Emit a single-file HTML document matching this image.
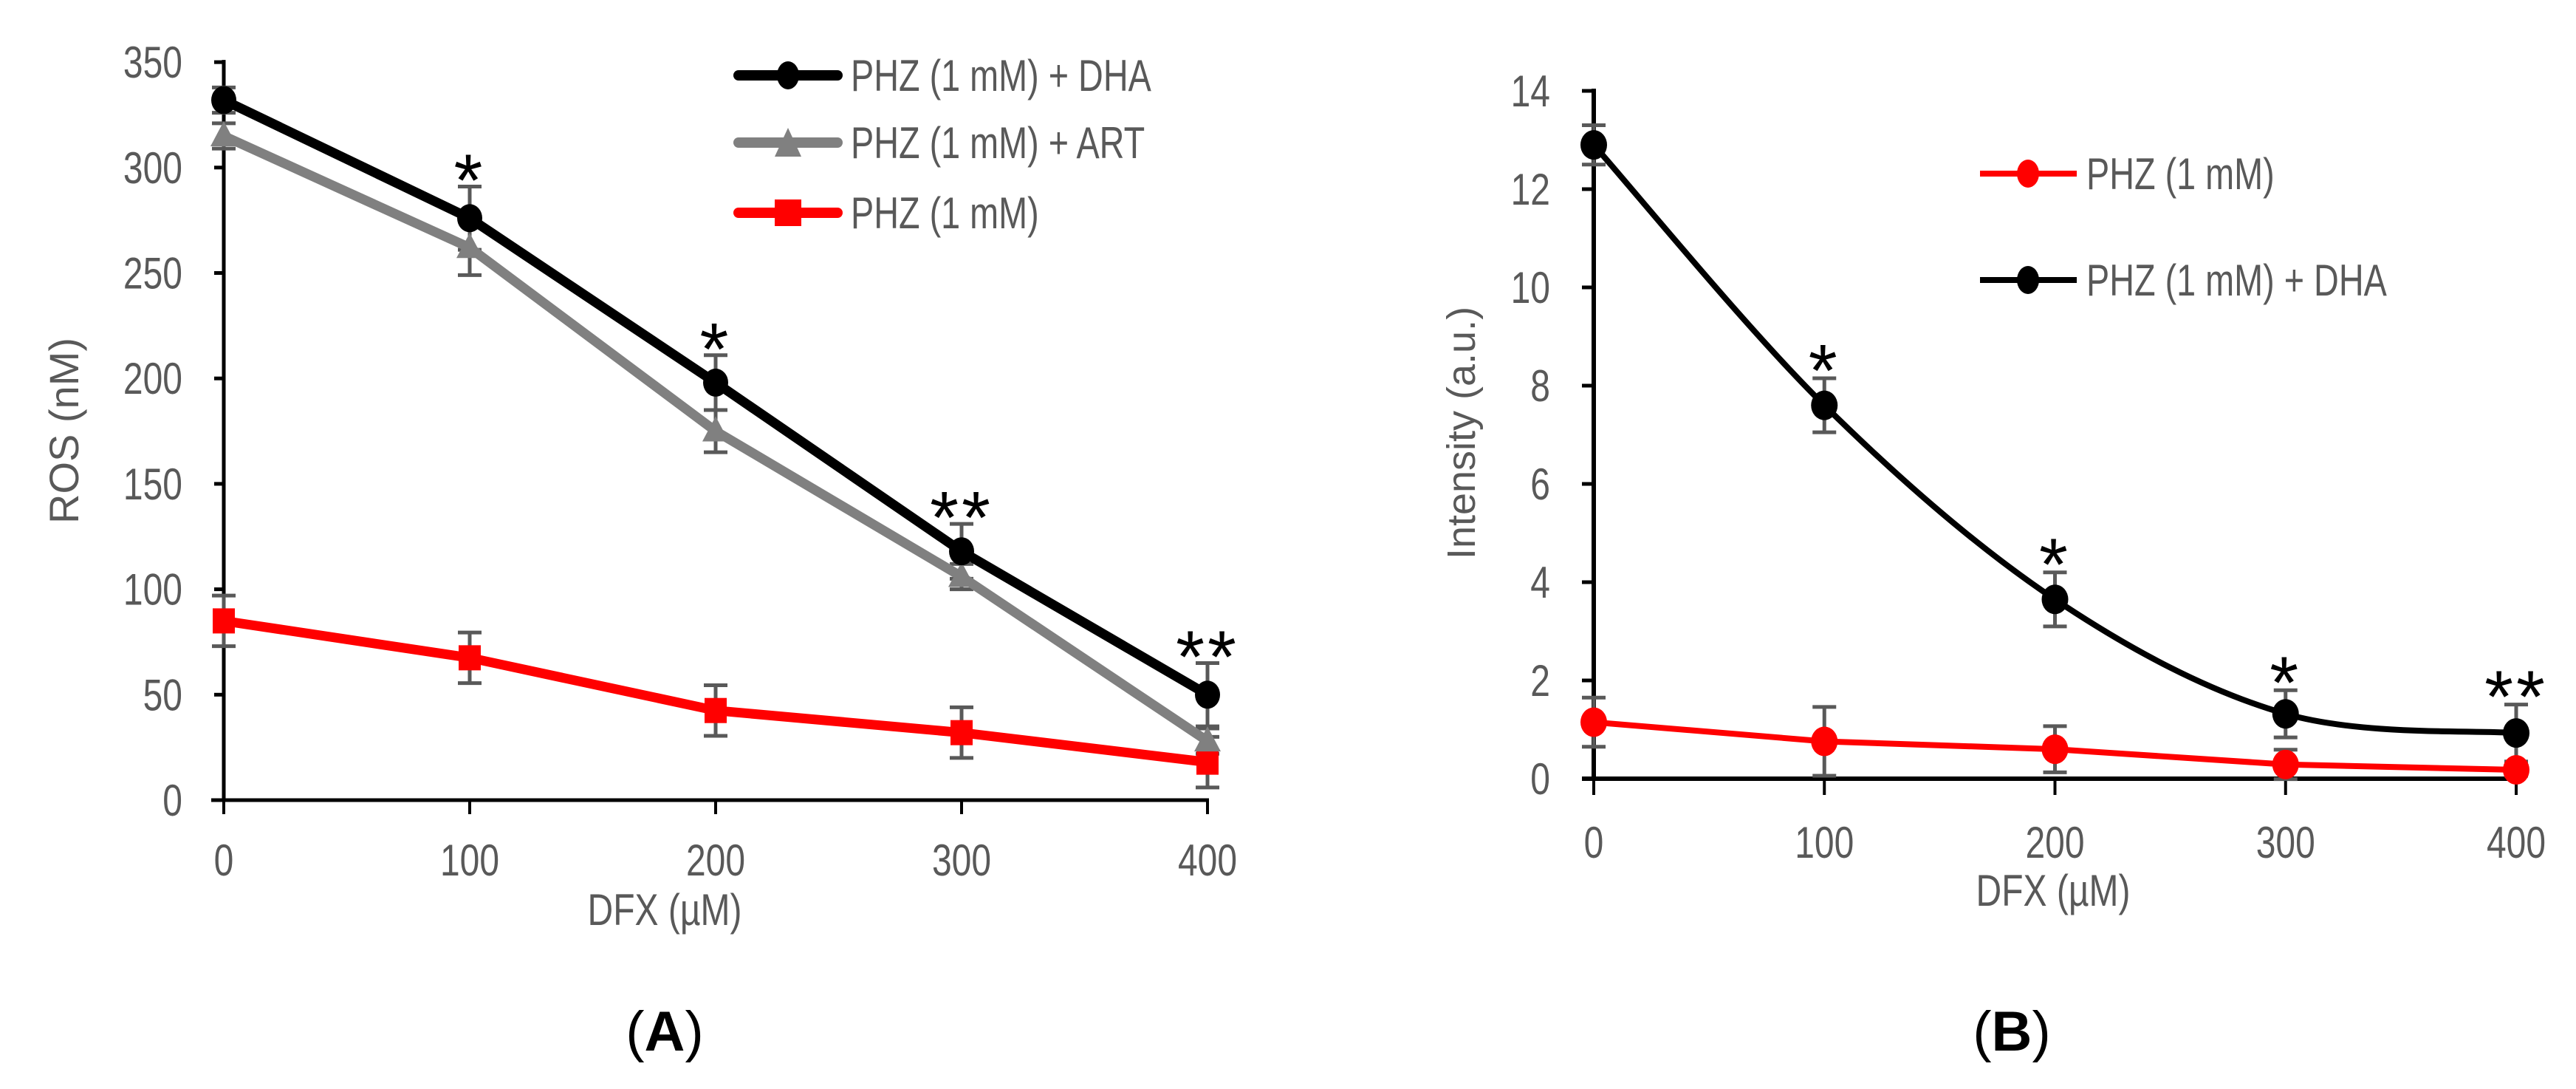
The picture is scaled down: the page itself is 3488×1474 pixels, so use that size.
<!DOCTYPE html>
<html><head><meta charset="utf-8">
<style>
html,body{margin:0;padding:0;background:#fff;}
svg{display:block;}
text{font-family:"Liberation Sans",sans-serif;}
</style></head>
<body>
<svg id="fig" width="3488" height="1474" viewBox="0 0 3488 1474" xmlns="http://www.w3.org/2000/svg"></svg>
<script>
// ---- Panel A data ----
const catsA = [0, 100, 200, 300, 400];
const dhaA = [332, 276, 198, 118, 50];
const dhaErrA = [6, 15, 13, 13, 15];
const artA = [315, 262, 175, 106, 28];
const artErrA = [6, 13, 10, 6, 6];
const phzA = [85, 67.5, 42.5, 32, 18];
const phzErrA = [12, 12, 12, 12, 12];
const starsA = ["", "*", "*", "**", "**"];
const yTicksA = [0, 50, 100, 150, 200, 250, 300, 350];
// ---- Panel B data ----
const catsB = [0, 100, 200, 300, 400];
const dhaB = [12.9, 7.6, 3.65, 1.32, 0.93];
const dhaErrB = [0.4, 0.55, 0.55, 0.48, 0.58];
const phzB = [1.15, 0.76, 0.6, 0.29, 0.18];
const phzErrB = [0.5, 0.7, 0.47, 0.3, 0.12];
const starsB = ["", "*", "*", "*", "**"];
const yTicksB = [0, 2, 4, 6, 8, 10, 12, 14];

const NS = "http://www.w3.org/2000/svg";
const svg = document.getElementById('fig');
function mk(tag, attrs, parent, txt){
  const e = document.createElementNS(NS, tag);
  for (const k in attrs) e.setAttribute(k, attrs[k]);
  if (txt !== undefined) e.textContent = txt;
  (parent || svg).appendChild(e);
  return e;
}
const xA = v => 303 + v * 3.3300;
const yA = v => 1083 - v * 2.854;
const xB = v => 2158 + v * 3.1225;
const yB = v => 1054 - v * 66.5;
const GRAY = "#595959";

function errBars(g, cats, vals, errs, xf, yf, name, cap){
  cats.forEach((c, i) => {
    const x = xf(c), y1 = yf(vals[i] + errs[i]), y2 = yf(vals[i] - errs[i]);
    const e = mk('path', {d:`M${x} ${y1}V${y2}M${x-cap} ${y1}H${x+cap}M${x-cap} ${y2}H${x+cap}`, stroke:GRAY, 'stroke-width':5, fill:'none'}, g);
    
    
  });
}

// ================= Panel A =================
const gA = mk('g', {});


yTicksA.forEach(t => {
  const l = mk('line', {x1:290, x2:303, y1:yA(t), y2:yA(t), stroke:'#000', 'stroke-width':5}, gA);
  
  
  const tx = mk('text', {x:247, y:yA(t)+21, 'text-anchor':'end', 'font-size':60, fill:GRAY, transform:`translate(${247},0) scale(0.8,1) translate(${-247},0)`}, gA, String(t));
  
  
});
catsA.forEach(c => {
  const l = mk('line', {x1:xA(c), x2:xA(c), y1:1083, y2:1102, stroke:'#000', 'stroke-width':4}, gA);
  
  
  const tx = mk('text', {x:xA(c), y:1185, 'text-anchor':'middle', 'font-size':60, fill:GRAY, transform:`translate(${xA(c)},0) scale(0.8,1) translate(${-xA(c)},0)`}, gA, String(c));
  
  
});
const axA = mk('path', {d:`M303 ${yA(350)-3}V1085M286 1083H${xA(400)+2}`, stroke:'#000', 'stroke-width':5, fill:'none'}, gA);


let t = mk('text', {x:0, y:0, 'text-anchor':'middle', 'font-size':56, fill:GRAY, transform:'translate(106,583) rotate(-90)'}, gA, 'ROS (nM)');


t = mk('text', {x:900, y:1252, 'text-anchor':'middle', 'font-size':60, fill:GRAY, transform:'translate(900,0) scale(0.8,1) translate(-900,0)'}, gA, 'DFX (µM)');



errBars(gA, catsA, phzA, phzErrA, xA, yA, 'phz', 16);
errBars(gA, catsA, artA, artErrA, xA, yA, 'art', 16);
errBars(gA, catsA, dhaA, dhaErrA, xA, yA, 'dha', 16);
function polyline(g, cats, vals, xf, yf, color, w, name){
  const p = mk('polyline', {points: cats.map((c,i)=>`${xf(c)},${yf(vals[i])}`).join(' '), fill:'none', stroke:color, 'stroke-width':w, 'stroke-linejoin':'round', 'stroke-linecap':'round'}, g);
  
  
}
polyline(gA, catsA, phzA, xA, yA, '#ff0000', 13, 'phz-line');
catsA.forEach((c,i) => {
  const m = mk('rect', {x:xA(c)-15, y:yA(phzA[i])-17, width:30, height:34, fill:'#ff0000'}, gA);
  
  
});
polyline(gA, catsA, artA, xA, yA, '#808080', 13, 'art-line');
catsA.forEach((c,i) => {
  const x = xA(c), y = yA(artA[i]);
  const m = mk('polygon', {points:`${x},${y-20} ${x+18},${y+14} ${x-18},${y+14}`, fill:'#808080'}, gA);
  
  
});
polyline(gA, catsA, dhaA, xA, yA, '#000', 13, 'dha-line');
catsA.forEach((c,i) => {
  const m = mk('ellipse', {cx:xA(c), cy:yA(dhaA[i]), rx:17, ry:19, fill:'#000'}, gA);
  
  
});
catsA.forEach((c,i) => {
  if (!starsA[i]) return;
  const s = mk('text', {x:xA(c), y:yA(dhaA[i]+dhaErrA[i]) + 26, 'text-anchor':'middle', 'font-size':100, fill:'#000', 'letter-spacing':4}, gA, starsA[i]);
  
  
});
const legA = [["PHZ (1 mM) + DHA", "#000", "circle", 102], ["PHZ (1 mM) + ART", "#808080", "tri", 193], ["PHZ (1 mM)", "#ff0000", "sq", 288]];
legA.forEach(L => {
  const g = mk('g', {}, gA);
  
  
  mk('line', {x1:1000, x2:1134, y1:L[3], y2:L[3], stroke:L[1], 'stroke-width':14, 'stroke-linecap':'round'}, g);
  if (L[2]==='circle') mk('ellipse', {cx:1067, cy:L[3], rx:15, ry:19, fill:L[1]}, g);
  if (L[2]==='tri') mk('polygon', {points:`1067,${L[3]-20} 1085,${L[3]+19} 1049,${L[3]+19}`, fill:L[1]}, g);
  if (L[2]==='sq') mk('rect', {x:1049, y:L[3]-18, width:36, height:36, fill:L[1]}, g);
  mk('text', {x:1152, y:L[3]+21, 'font-size':60, fill:GRAY, transform:`translate(1152,0) scale(0.78,1) translate(-1152,0)`}, g, L[0]);
});

// ================= Panel B =================
const gB = mk('g', {});


yTicksB.forEach(v => {
  const l = mk('line', {x1:2142, x2:2158, y1:yB(v), y2:yB(v), stroke:'#000', 'stroke-width':5}, gB);
  
  
  const tx = mk('text', {x:2099, y:yB(v)+21, 'text-anchor':'end', 'font-size':60, fill:GRAY, transform:`translate(2099,0) scale(0.8,1) translate(-2099,0)`}, gB, String(v));
  
  
});
catsB.forEach(c => {
  const l = mk('line', {x1:xB(c), x2:xB(c), y1:1054, y2:1076, stroke:'#000', 'stroke-width':4}, gB);
  
  
  const tx = mk('text', {x:xB(c), y:1161, 'text-anchor':'middle', 'font-size':60, fill:GRAY, transform:`translate(${xB(c)},0) scale(0.8,1) translate(${-xB(c)},0)`}, gB, String(c));
  
  
});
const axB = mk('path', {d:`M2158 ${yB(14)-3}V1057M2142 1054H${xB(400)+4}`, stroke:'#000', 'stroke-width':6, fill:'none'}, gB);


t = mk('text', {x:0, y:0, 'text-anchor':'middle', 'font-size':54, fill:GRAY, transform:'translate(1997,586) rotate(-90)'}, gB, 'Intensity (a.u.)');


t = mk('text', {x:2780, y:1226, 'text-anchor':'middle', 'font-size':60, fill:GRAY, transform:'translate(2780,0) scale(0.8,1) translate(-2780,0)'}, gB, 'DFX (µM)');



errBars(gB, catsB, phzB, phzErrB, xB, yB, 'phz', 16);
errBars(gB, catsB, dhaB, dhaErrB, xB, yB, 'dha', 16);
polyline(gB, catsB, phzB, xB, yB, '#ff0000', 8, 'phz-line');
const pts = catsB.map((c,i)=>[xB(c), yB(dhaB[i])]);
let d = `M${pts[0][0]} ${pts[0][1]}`;
for (let i=0;i<pts.length-1;i++){
  const p0 = pts[Math.max(i-1,0)], p1 = pts[i], p2 = pts[i+1], p3 = pts[Math.min(i+2,pts.length-1)];
  const k = 1/6;
  d += ` C${p1[0]+(p2[0]-p0[0])*k} ${p1[1]+(p2[1]-p0[1])*k} ${p2[0]-(p3[0]-p1[0])*k} ${p2[1]-(p3[1]-p1[1])*k} ${p2[0]} ${p2[1]}`;
}
const curve = mk('path', {d:d, fill:'none', stroke:'#000', 'stroke-width':8}, gB);


catsB.forEach((c,i) => {
  const m = mk('ellipse', {cx:xB(c), cy:yB(phzB[i]), rx:18, ry:20, fill:'#ff0000'}, gB);
  
  
});
catsB.forEach((c,i) => {
  const m = mk('ellipse', {cx:xB(c), cy:yB(dhaB[i]), rx:18, ry:20, fill:'#000'}, gB);
  
  
});
catsB.forEach((c,i) => {
  if (!starsB[i]) return;
  const s = mk('text', {x:xB(c), y:yB(dhaB[i]+dhaErrB[i]) + 24, 'text-anchor':'middle', 'font-size':100, fill:'#000', 'letter-spacing':4}, gB, starsB[i]);
  
  
});
const legB = [["PHZ (1 mM)", "#ff0000", 235], ["PHZ (1 mM) + DHA", "#000", 379]];
legB.forEach(L => {
  const g = mk('g', {}, gB);
  
  
  mk('line', {x1:2681, x2:2812, y1:L[2], y2:L[2], stroke:L[1], 'stroke-width':8}, g);
  mk('ellipse', {cx:2746, cy:L[2], rx:15, ry:19, fill:L[1]}, g);
  mk('text', {x:2825, y:L[2]+21, 'font-size':60, fill:GRAY, transform:`translate(2825,0) scale(0.78,1) translate(-2825,0)`}, g, L[0]);
});

t = mk('text', {x:900, y:1422, 'text-anchor':'middle', 'font-size':76, fill:'#000', 'font-family':'Liberation Serif, serif'}, svg);


mk('tspan', {}, t, '(');
mk('tspan', {'font-weight':'bold'}, t, 'A');
mk('tspan', {}, t, ')');
t = mk('text', {x:2724, y:1422, 'text-anchor':'middle', 'font-size':76, fill:'#000', 'font-family':'Liberation Serif, serif'}, svg);


mk('tspan', {}, t, '(');
mk('tspan', {'font-weight':'bold'}, t, 'B');
mk('tspan', {}, t, ')');
</script>
</body></html>
